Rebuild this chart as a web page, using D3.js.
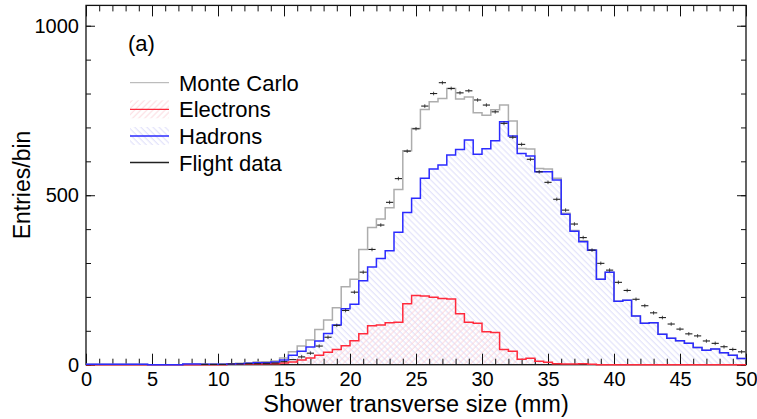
<!DOCTYPE html>
<html>
<head>
<meta charset="utf-8">
<script src="https://cdn.jsdelivr.net/npm/d3@7"></script>
<style>
  body { margin: 0; background: #fff; }
  text { font-family: "Liberation Sans", Arial, Helvetica, sans-serif; fill: #000; }
</style>
</head>
<body>
<svg id="chart" width="757" height="419"></svg>
<script>
// binning of the histograms: 75 bins over 0-50 mm
const xMin = 0
const xMax = 50
const nBins = 75

const xTicks = [0, 5, 10, 15, 20, 25, 30, 35, 40, 45, 50]
const yTicks = [0, 500, 1000]
const legendLabels = ['Monte Carlo', 'Electrons', 'Hadrons', 'Flight data']
const panelLabel = '(a)'

const monteCarlo = [
  1, 1, 1, 1, 1, 1, 1,
  0, 0, 0, 0,
  2, 2, 1, 1, 1,
  3, 4, 6, 8, 9,
  11, 20, 38, 55, 73,
  104, 132, 168, 230, 252,
  340, 405, 430, 463, 517,
  631, 697, 753, 776, 785,
  815, 784, 790, 743, 736,
  752, 766, 719, 638, 636,
  579, 577, 550, 447, 396,
  366, 339, 252, 273, 187,
  190, 144, 122, 124, 90,
  78, 71, 63, 51, 43,
  46, 35, 28, 18
]

const electrons = [
  0, 0, 0, 0, 0, 0, 0, 0, 0, 0, 0, 0, 0, 0, 0, 0,
  1, 1, 2, 2, 3,
  3, 5, 8, 14, 20,
  28, 37, 45, 56, 71,
  91, 115, 117, 124, 125,
  180, 204, 203, 199, 195,
  194, 150, 125, 122, 97,
  95, 45, 40, 16, 19,
  10, 7, 3, 2, 2,
  3, 1, 0, 0, 0,
  0, 0, 0, 0, 0, 0, 0, 0, 0, 0, 0, 0, 0, 0
]

const hadrons = [
  1, 1, 1, 1, 1, 1, 1,
  0, 0, 0, 0,
  2, 2, 1, 1, 1,
  2, 3, 4, 6, 6,
  8, 14, 28, 40, 52,
  70, 92, 117, 165, 178,
  248, 288, 313, 336, 391,
  449, 491, 550, 577, 589,
  619, 635, 663, 621, 637,
  661, 717, 675, 623, 616,
  569, 569, 545, 444, 394,
  363, 338, 252, 273, 187,
  190, 144, 122, 124, 90,
  78, 71, 63, 51, 43,
  46, 35, 28, 18
]

const flightData = [
  0, 0, 0, 0, 0, 0, 0, 0, 0, 0, 0, 0, 0,
  1, 1, 1,
  2, 2, 3, 3, 4,
  5, 9, 15, 23, 34,
  55, 81, 116, 160, 214,
  273, 340, 412, 479, 549,
  630, 696, 763, 800, 832,
  815, 802, 808, 781, 766,
  746, 712, 671, 650, 606,
  569, 538, 488, 456, 415,
  375, 338, 299, 279, 243,
  219, 193, 174, 153, 139,
  120, 105, 91, 85, 70,
  63, 53, 45, 38
]

const svg = d3.select('#chart')

const x = d3.scaleLinear().domain([xMin, xMax]).range([86, 746])
const y = d3.scaleLinear().domain([0, 1060]).range([364.7, 5.4])

const binW = (xMax - xMin) / nBins
const edges = d3.range(nBins + 1).map(i => xMin + i * binW)

// hatch patterns
const defs = svg.append('defs')
function hatch (id, color, angle) {
  const p = defs.append('pattern')
    .attr('id', id)
    .attr('patternUnits', 'userSpaceOnUse')
    .attr('width', 4.3)
    .attr('height', 10)
    .attr('patternTransform', 'rotate(' + angle + ')')
  p.append('line')
    .attr('x1', 1).attr('x2', 1)
    .attr('y1', 0).attr('y2', 10)
    .attr('stroke', color)
    .attr('stroke-width', 0.8)
}
hatch('hatchBlue', '#d2d2f8', -45)
hatch('hatchRed', '#fbccd3', 45)

function steps (values) {
  const pts = values.map((v, i) => [edges[i], v])
  pts.push([edges[nBins], values[nBins - 1]])
  return pts
}

const line = d3.line()
  .x(d => x(d[0]))
  .y(d => y(d[1]))
  .curve(d3.curveStepAfter)

const area = d3.area()
  .x(d => x(d[0]))
  .y0(y(0))
  .y1(d => y(d[1]))
  .curve(d3.curveStepAfter)

// fills
svg.append('path').attr('d', area(steps(hadrons))).attr('fill', 'url(#hatchBlue)')
svg.append('path').attr('d', area(steps(electrons))).attr('fill', 'url(#hatchRed)')

// frame and ticks
const g = svg.append('g').attr('font-size', 20)

function axis (gen, values, size, transform, labels) {
  const a = g.append('g')
    .attr('transform', transform)
    .call(gen.tickValues(values).tickSize(size).tickPadding(labels ? 7 : 0)
      .tickFormat(labels ? d3.format('d') : ''))
  a.select('.domain').remove()
  a.selectAll('.tick line').attr('stroke', '#111').attr('stroke-width', 1)
  a.selectAll('text').attr('font-size', 20).attr('font-family', '"Liberation Sans", Arial, sans-serif').attr('fill', '#000')
  return a
}

const xMinor = d3.range(xMin, xMax + 1, 1)
const yMinor = d3.range(0, 1001, 100)

axis(d3.axisBottom(x), xMinor, -6, 'translate(0,364.7)', false)
axis(d3.axisBottom(x), xTicks, -11, 'translate(0,364.7)', true)
axis(d3.axisTop(x), xMinor, -6, 'translate(0,5.4)', false)
axis(d3.axisTop(x), xTicks, -11, 'translate(0,5.4)', false)
axis(d3.axisLeft(y), yMinor, -5, 'translate(86,0)', false)
axis(d3.axisLeft(y), yTicks, -9, 'translate(86,0)', true)
axis(d3.axisRight(y), yMinor, -5, 'translate(746,0)', false)
axis(d3.axisRight(y), yTicks, -9, 'translate(746,0)', false)

svg.append('rect')
  .attr('x', 86).attr('y', 5.4)
  .attr('width', 660).attr('height', 359.3)
  .attr('fill', 'none')
  .attr('stroke', '#111')
  .attr('stroke-width', 1.3)

// histogram lines
svg.append('path').attr('d', line(steps(monteCarlo)))
  .attr('fill', 'none').attr('stroke', '#adadad').attr('stroke-width', 1.5)
svg.append('path').attr('d', line(steps(electrons)))
  .attr('fill', 'none').attr('stroke', '#ff2a3c').attr('stroke-width', 1.5)
svg.append('path').attr('d', line(steps(hadrons)))
  .attr('fill', 'none').attr('stroke', '#2b2bff').attr('stroke-width', 1.5)

// flight data points with error bars
const pts = flightData.map((v, i) => ({ x0: edges[i], x1: edges[i + 1], v: v }))
  .filter(d => d.v > 0)
const dg = svg.append('g').attr('stroke', '#222').attr('stroke-width', 1.1)
dg.selectAll('line.h').data(pts).enter().append('line')
  .attr('class', 'h')
  .attr('x1', d => x(d.x0) + 0.8)
  .attr('x2', d => x(d.x1) - 0.8)
  .attr('y1', d => y(d.v))
  .attr('y2', d => y(d.v))
dg.selectAll('line.v').data(pts.filter(d => d.v > 20)).enter().append('line')
  .attr('class', 'v')
  .attr('stroke-width', 0.8)
  .attr('x1', d => x((d.x0 + d.x1) / 2))
  .attr('x2', d => x((d.x0 + d.x1) / 2))
  .attr('y1', d => y(d.v) - 1.8)
  .attr('y2', d => y(d.v) + 1.8)

// legend
const legendY = [82.7, 109.3, 136, 162.5]
const legendStroke = ['#adadad', '#ff2a3c', '#2b2bff', '#222']
const legendFill = [null, 'url(#hatchRed)', 'url(#hatchBlue)', null]
const lg = svg.append('g')
legendLabels.forEach((name, i) => {
  if (legendFill[i]) {
    lg.append('rect')
      .attr('x', 130).attr('y', legendY[i] - 9)
      .attr('width', 39).attr('height', 18)
      .attr('fill', legendFill[i])
  }
  lg.append('line')
    .attr('x1', 130).attr('x2', 169)
    .attr('y1', legendY[i]).attr('y2', legendY[i])
    .attr('stroke', legendStroke[i])
    .attr('stroke-width', i === 0 ? 1 : 1.3)
  lg.append('text')
    .attr('x', 179).attr('y', legendY[i] + 8)
    .attr('font-size', 22)
    .text(name)
})

svg.append('text')
  .attr('x', 128).attr('y', 51)
  .attr('font-size', 22)
  .text(panelLabel)

// axis titles
svg.append('text')
  .attr('x', 416).attr('y', 412)
  .attr('text-anchor', 'middle')
  .attr('font-size', 23.5)
  .text('Shower transverse size (mm)')

svg.append('text')
  .attr('transform', 'translate(30,185) rotate(-90)')
  .attr('text-anchor', 'middle')
  .attr('font-size', 23)
  .text('Entries/bin')
</script>
</body>
</html>
